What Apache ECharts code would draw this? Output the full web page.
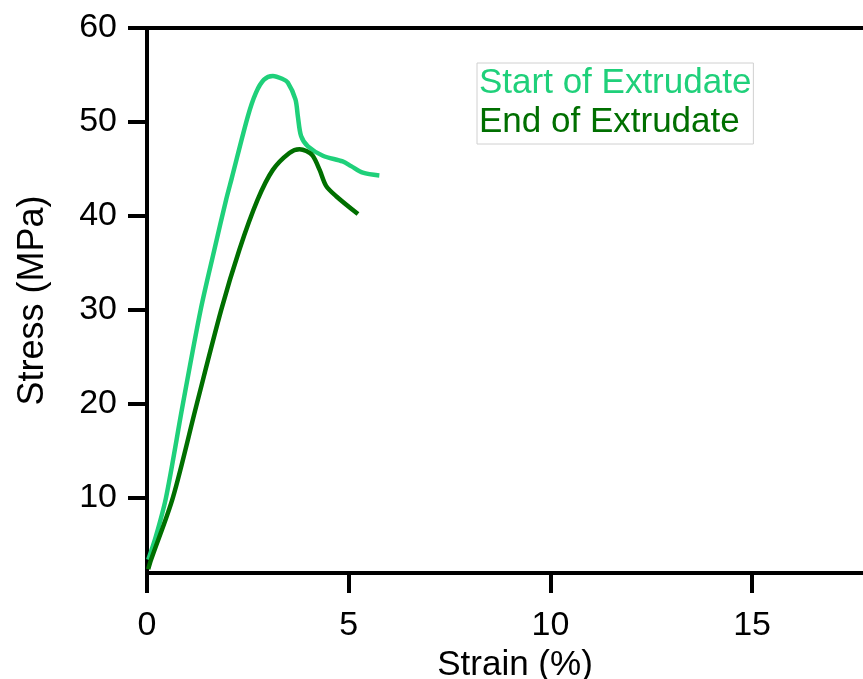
<!DOCTYPE html>
<html>
<head>
<meta charset="utf-8">
<script src="https://cdn.jsdelivr.net/npm/echarts@6/dist/echarts.min.js"></script>
<style>html,body{margin:0;padding:0;background:#fff;}#c{width:863px;height:679px;}</style>
</head>
<body>
<div id="c"></div>
<script>
const seriesNames = ['Start of Extrudate', 'End of Extrudate'];
const startStrain = [0.03, 0.22, 0.47, 0.88, 1.33, 1.67, 1.96, 2.10, 2.50, 2.70, 2.90, 3.12, 3.35, 3.49, 3.68, 3.74, 3.82, 3.99, 4.36, 4.85, 5.06, 5.35, 5.76];
const startStress = [3.4, 5.9, 10.0, 19.75, 30.0, 36.4, 41.7, 44.0, 50.6, 53.1, 54.5, 54.9, 54.6, 54.2, 52.4, 50.6, 48.5, 47.4, 46.4, 45.8, 45.3, 44.6, 44.3];
const endStrain = [0.03, 0.10, 0.64, 1.22, 1.84, 2.29, 2.74, 3.12, 3.53, 3.78, 3.95, 4.11, 4.28, 4.44, 4.69, 5.23];
const endStress = [2.4, 3.4, 10.0, 19.75, 30.0, 36.4, 41.7, 44.9, 46.7, 47.1, 46.9, 46.4, 44.9, 43.2, 42.1, 40.2];
const yTicks = [10, 20, 30, 40, 50, 60];
const xTicks = [0, 5, 10, 15];

const colors = ['#1fd07a', '#006f00'];
const font = 'Liberation Sans, Arial, sans-serif';
const pairs = (xs, ys) => xs.map((x, i) => [x, ys[i]]);

const chart = echarts.init(document.getElementById('c'));
chart.setOption({
  animation: false,
  grid: { left: 147, top: 28, right: 0, bottom: 106, containLabel: false, outerBoundsMode: 'none' },
  legend: {
    orient: 'vertical', left: 477, top: 63,
    padding: [3, 2, 4, 2], itemGap: 4,
    itemWidth: 0, itemHeight: 34, icon: 'none',
    borderColor: '#d0d0d0', borderWidth: 1,
    textStyle: { fontFamily: font, fontSize: 35, padding: [0, 0, 0, -5] },
    data: [
      { name: seriesNames[0], textStyle: { color: colors[0] } },
      { name: seriesNames[1], textStyle: { color: colors[1] } }
    ]
  },
  xAxis: [{
    type: 'value', min: 0, max: 17.75,
    name: 'Strain (%)', nameLocation: 'middle', nameGap: 58,
    nameTextStyle: { fontFamily: font, fontSize: 35, color: '#000', padding: [0, 0, 0, 20] },
    axisLine: { show: true, onZero: false, lineStyle: { color: '#000', width: 4 } },
    axisTick: { show: true, inside: false, length: 20, customValues: xTicks, lineStyle: { color: '#000', width: 4 } },
    axisLabel: { fontFamily: font, fontSize: 34, color: '#000', margin: 36, customValues: xTicks },
    splitLine: { show: false }
  }, {
    type: 'value', min: 0, max: 17.75, position: 'top',
    axisLine: { show: true, onZero: false, lineStyle: { color: '#000', width: 4 } },
    axisTick: { show: false }, axisLabel: { show: false }, splitLine: { show: false }
  }],
  yAxis: {
    type: 'value', min: 2, max: 60,
    name: 'Stress (MPa)', nameLocation: 'middle', nameGap: 96,
    nameTextStyle: { fontFamily: font, fontSize: 36, color: '#000' },
    axisLine: { show: true, onZero: false, lineStyle: { color: '#000', width: 4 } },
    axisTick: { show: true, inside: false, length: 19, customValues: yTicks, lineStyle: { color: '#000', width: 4 } },
    axisLabel: { fontFamily: font, fontSize: 34, color: '#000', margin: 30, customValues: yTicks },
    splitLine: { show: false }
  },
  series: [
    {
      name: seriesNames[0], type: 'line', data: pairs(startStrain, startStress),
      smooth: 0.3, showSymbol: false, symbol: 'none', color: colors[0],
      lineStyle: { color: colors[0], width: 4.5 }, z: 2
    },
    {
      name: seriesNames[1], type: 'line', data: pairs(endStrain, endStress),
      smooth: 0.3, showSymbol: false, symbol: 'none', color: colors[1],
      lineStyle: { color: colors[1], width: 4.5 }, z: 3
    }
  ]
});
</script>
</body>
</html>
